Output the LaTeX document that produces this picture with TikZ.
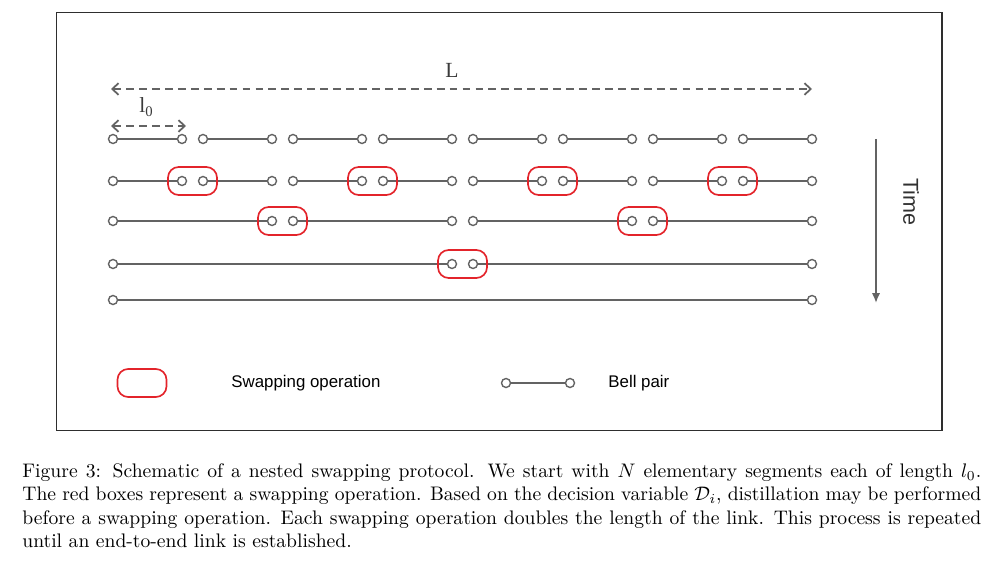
\documentclass[tikz,border=0pt]{standalone}
\usepackage{fontspec}
\newfontfamily\arialf{Liberation Sans}
\newfontfamily\timesf{Liberation Serif}
\usetikzlibrary{arrows.meta}
\definecolor{lg}{HTML}{636363}
\definecolor{rb}{HTML}{E3242B}
\definecolor{fr}{HTML}{2E2E2E}
\begin{document}
\begin{tikzpicture}[x=0.51pt,y=-0.51pt,
  pt/.style={circle,draw=lg,fill=white,line width=0.7pt,inner sep=0pt,minimum size=4.6pt},
  link/.style={draw=lg,line width=1pt},
  swapbox/.style={draw=rb,line width=0.85pt,rounded corners=5.5pt,minimum width=25pt,minimum height=14.3pt,inner sep=0pt},
  dimarrow/.style={draw=lg,line width=0.9pt,dash pattern=on 4pt off 2.6pt,
     {Straight Barb[length=3.2pt,width=6pt]}-{Straight Barb[length=3.2pt,width=6pt]}},
  lab/.style={font=\arialf\fontsize{8.6}{10}\selectfont,inner sep=0pt,text=black}]
\useasboundingbox (0,0) rectangle (1000,564);
% frame
\draw[fr,line width=1pt] (56.5,12.5) rectangle (942,430.5);
% dimension arrows
\coordinate (Lleft) at (111,89);
\coordinate (Lright) at (812,89);
\draw[dimarrow] (Lleft) -- (Lright);
\node[font=\timesf\fontsize{11}{13}\selectfont,text=lg!60!black] (Llab) at (452,70) {L};
\coordinate (l0left) at (111,126);
\coordinate (l0right) at (186,126);
\draw[dimarrow] (l0left) -- (l0right);
\node[font=\timesf\fontsize{11}{13}\selectfont,text=lg!60!black] (l0lab) at (146,107) {l\raisebox{-0.45ex}{\fontsize{7.5}{8}\selectfont 0}};
% row a: elementary links
\foreach \k in {0,...,7} {
  \node[pt] (a\k-s) at ({113+90*\k},139) {};
  \node[pt] (a\k-e) at ({182+90*\k},139) {};
  \draw[link] (a\k-s) -- (a\k-e);
}
% row b: same links, swapping
\foreach \k in {0,...,7} {
  \node[pt] (b\k-s) at ({113+90*\k},181) {};
  \node[pt] (b\k-e) at ({182+90*\k},181) {};
  \draw[link] (b\k-s) -- (b\k-e);
}
\foreach \j in {0,...,3} {
  \node[swapbox] (bx\j) at ({192.5+180*\j},181) {};
}
% row c
\foreach \j in {0,...,3} {
  \node[pt] (c\j-s) at ({113+180*\j},221) {};
  \node[pt] (c\j-e) at ({272+180*\j},221) {};
  \draw[link] (c\j-s) -- (c\j-e);
}
\node[swapbox] (cx0) at (282.5,221) {};
\node[swapbox] (cx1) at (642.5,221) {};
% row d
\node[pt] (d0-s) at (113,264) {};
\node[pt] (d0-e) at (452,264) {};
\node[pt] (d1-s) at (473,264) {};
\node[pt] (d1-e) at (812,264) {};
\draw[link] (d0-s) -- (d0-e);
\draw[link] (d1-s) -- (d1-e);
\node[swapbox] (dx0) at (462.5,264) {};
% row e
\node[pt] (e0-s) at (113,300) {};
\node[pt] (e0-e) at (812,300) {};
\draw[link] (e0-s) -- (e0-e);
% time arrow
\coordinate (t0) at (876,139);
\coordinate (t1) at (876,303);
\draw[lg,line width=0.9pt,-{Latex[length=5pt,width=4.2pt]}] (t0) -- (t1);
\node[rotate=-90,font=\arialf\fontsize{11}{13}\selectfont,text=lg!50!black] (timelab) at (911,202) {Time};
% legend
\node[swapbox] (legbox) at (142,383) {};
\node[lab,anchor=west] (legswap) at (231,383) {Swapping operation};
\node[pt] (legp1) at (506,383) {};
\node[pt] (legp2) at (570,383) {};
\draw[link] (legp1) -- (legp2);
\node[lab,anchor=west] (legbell) at (608,383) {Bell pair};
% caption
\node[anchor=north west,inner sep=0pt,text width=489pt,align=justify,font=\fontsize{10}{12}\selectfont] (cap) at (22,463)
{Figure 3: Schematic of a nested swapping protocol. We start with $N$ elementary segments each of length $l_0$.\linebreak
The red boxes represent a swapping operation. Based on the decision variable $\mathcal{D}_i$, distillation may be performed\linebreak
before a swapping operation. Each swapping operation doubles the length of the link. This process is repeated\linebreak
until an end-to-end link is established.};
\end{tikzpicture}
\end{document}
